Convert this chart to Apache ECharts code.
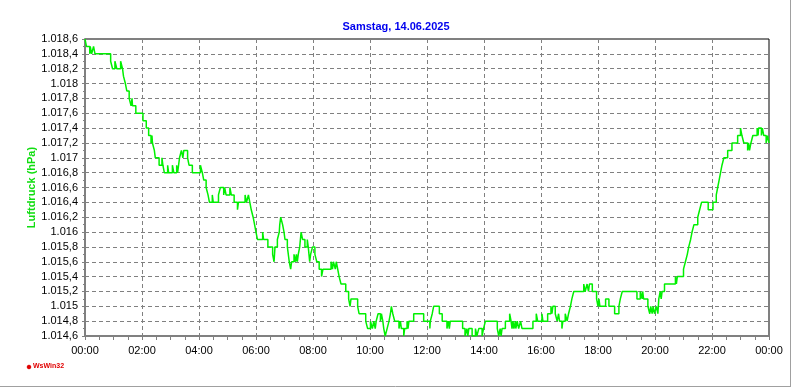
<!DOCTYPE html>
<html><head><meta charset="utf-8">
<script src="https://cdn.jsdelivr.net/npm/echarts@6/dist/echarts.min.js"></script>
<style>html,body{margin:0;padding:0;background:#fff}#c{width:792px;height:387px}</style>
</head><body><div id="c"></div>
<script>
const titleText = 'Samstag, 14.06.2025';
const yAxisName = 'Luftdruck (hPa)';
const xTickLabels = ['00:00','02:00','04:00','06:00','08:00','10:00','12:00','14:00','16:00','18:00','20:00','22:00','00:00'];
// minutes since midnight at which the reading changes
const times = [0,3,10,11,14,18,21,54,58,63,67,75,79,81,85,88,93,97,99,100,107,122,129,134,139,141,142,146,148,156,162,164,167,174,176,184,187,193,195,197,199,203,206,208,216,219,226,243,247,250,255,259,262,268,270,281,285,292,294,297,305,308,314,321,323,337,340,344,347,350,354,357,360,363,374,376,385,395,398,400,405,409,410,412,416,419,421,426,430,433,435,440,443,445,447,449,452,455,458,463,468,470,473,475,479,484,488,493,498,501,518,521,523,527,529,532,535,539,549,555,558,560,574,577,591,595,601,605,608,611,613,617,622,624,627,629,632,636,640,643,645,648,652,661,664,666,671,673,678,680,682,692,713,726,727,731,734,746,752,762,765,767,769,795,800,804,806,808,815,822,825,829,836,839,843,868,871,874,876,878,885,894,897,899,901,903,906,907,910,913,917,920,943,950,953,962,964,974,981,983,985,990,994,997,999,1004,1006,1011,1015,1018,1022,1025,1029,1050,1053,1057,1060,1062,1068,1077,1080,1082,1084,1096,1103,1115,1124,1127,1131,1162,1169,1173,1174,1176,1185,1189,1191,1194,1196,1199,1203,1206,1208,1211,1213,1215,1220,1243,1245,1247,1260,1264,1268,1271,1275,1278,1282,1290,1294,1298,1312,1322,1329,1332,1335,1338,1341,1345,1353,1362,1374,1380,1383,1387,1395,1397,1399,1402,1406,1415,1417,1418,1424,1426,1429,1434,1437,1440];
const pressure = [1018.6,1018.5,1018.4,1018.5,1018.4,1018.5,1018.4,1018.3,1018.2,1018.3,1018.2,1018.3,1018.2,1018.1,1018.0,1017.9,1017.8,1017.7,1017.8,1017.7,1017.6,1017.5,1017.4,1017.3,1017.2,1017.3,1017.2,1017.1,1017.0,1016.9,1017.0,1016.9,1016.8,1016.9,1016.8,1016.9,1016.8,1016.9,1016.8,1016.9,1017.0,1017.1,1017.0,1017.1,1017.0,1016.9,1016.8,1016.9,1016.8,1016.7,1016.6,1016.5,1016.4,1016.5,1016.4,1016.5,1016.6,1016.5,1016.6,1016.5,1016.6,1016.5,1016.4,1016.3,1016.4,1016.5,1016.4,1016.5,1016.4,1016.3,1016.2,1016.1,1016.0,1015.9,1016.0,1015.9,1015.8,1015.7,1015.6,1015.8,1015.9,1016.0,1016.1,1016.2,1016.1,1016.0,1015.9,1015.8,1015.6,1015.5,1015.6,1015.7,1015.6,1015.7,1015.6,1015.7,1015.8,1016.0,1015.9,1015.8,1015.9,1015.8,1015.6,1015.7,1015.8,1015.7,1015.6,1015.5,1015.4,1015.5,1015.6,1015.5,1015.6,1015.5,1015.6,1015.5,1015.4,1015.3,1015.2,1015.1,1015.0,1015.1,1015.0,1014.9,1014.8,1014.7,1014.8,1014.7,1014.8,1014.7,1014.8,1014.9,1014.8,1014.9,1014.8,1014.7,1014.6,1014.7,1014.8,1014.9,1015.0,1014.9,1014.8,1014.7,1014.8,1014.7,1014.6,1014.7,1014.8,1014.7,1014.8,1014.9,1014.8,1014.7,1014.8,1014.9,1015.0,1014.9,1014.8,1014.7,1014.8,1014.7,1014.8,1014.7,1014.6,1014.7,1014.6,1014.7,1014.6,1014.7,1014.6,1014.7,1014.6,1014.7,1014.8,1014.7,1014.6,1014.7,1014.6,1014.7,1014.8,1014.9,1014.8,1014.7,1014.8,1014.7,1014.8,1014.7,1014.8,1014.7,1014.8,1014.7,1014.8,1014.9,1014.8,1014.9,1014.8,1014.9,1015.0,1014.9,1015.0,1014.9,1014.8,1014.9,1014.8,1014.7,1014.8,1014.9,1014.8,1014.9,1015.0,1015.1,1015.2,1015.3,1015.2,1015.3,1015.2,1015.3,1015.2,1015.1,1015.0,1015.1,1015.0,1015.1,1015.0,1014.9,1015.0,1015.1,1015.2,1015.1,1015.2,1015.1,1015.2,1015.1,1015.0,1014.9,1015.0,1014.9,1015.0,1014.9,1015.0,1014.9,1015.1,1015.2,1015.1,1015.2,1015.3,1015.4,1015.3,1015.4,1015.5,1015.6,1015.7,1015.8,1015.9,1016.0,1016.1,1016.2,1016.3,1016.4,1016.3,1016.4,1016.5,1016.6,1016.7,1016.8,1016.9,1017.0,1017.1,1017.2,1017.3,1017.4,1017.3,1017.2,1017.1,1017.2,1017.1,1017.2,1017.3,1017.4,1017.3,1017.4,1017.3,1017.4,1017.3,1017.2,1017.3,1017.2];

const data = times.map((t, i) => [t, pressure[i]]);

function deFormat(v) {
  let s = (Math.round(v * 10) / 10).toFixed(1);
  let [ip, dp] = s.split('.');
  ip = ip.replace(/\B(?=(\d{3})+(?!\d))/g, '.');
  return dp === '0' ? ip : ip + ',' + dp;
}

const chart = echarts.init(document.getElementById('c'), null, {renderer: 'canvas'});
const font = 'Liberation Sans, Arial, sans-serif';
chart.setOption({
  animation: false,
  backgroundColor: '#fff',
  title: {
    text: titleText, left: 'center', top: 16,
    textStyle: {color: '#0000ee', fontSize: 11, fontWeight: 'bold', fontFamily: font}
  },
  grid: {left: 85, right: 23, top: 39, bottom: 51, show: true, borderColor: '#000', borderWidth: 1, backgroundColor: '#fff'},
  xAxis: {
    type: 'value', min: 0, max: 1440, interval: 120,
    axisLine: {show: true, onZero: false, lineStyle: {color: '#808080', width: 2}},
    axisTick: {show: true, length: 4, lineStyle: {color: '#808080'}},
    minorTick: {show: true, splitNumber: 4, length: 4, lineStyle: {color: '#808080'}},
    axisLabel: {color: '#000', fontSize: 11, fontFamily: font, margin: 9,
      formatter: v => xTickLabels[Math.round(v / 120)] || ''},
    splitLine: {show: true, lineStyle: {color: '#808080', type: [4, 3], width: 1}}
  },
  yAxis: {
    type: 'value', min: 1014.6, max: 1018.6, interval: 0.2,
    name: yAxisName, nameLocation: 'middle', nameGap: 48, nameRotate: 90, nameMoveOverlap: false,
    nameTextStyle: {color: '#11dd11', fontSize: 11, fontWeight: 'bold', fontFamily: font},
    axisLine: {show: true, lineStyle: {color: '#808080', width: 2}},
    axisTick: {show: true, length: 3, lineStyle: {color: '#808080'}},
    minorTick: {show: true, splitNumber: 2, length: 2, lineStyle: {color: '#808080'}},
    axisLabel: {color: '#000', fontSize: 11, fontFamily: font, margin: 7, formatter: deFormat},
    splitLine: {show: true, lineStyle: {color: '#808080', type: [4, 3], width: 1}}
  },
  series: [{
    type: 'line', data: data, step: 'end', showSymbol: false, symbol: 'none',
    lineStyle: {color: '#00f000', width: 1.5}, itemStyle: {color: '#00f000'}
  }],
  graphic: [
    {type: 'line', shape: {x1: 790.5, y1: 0, x2: 790.5, y2: 387}, style: {stroke: '#a0a0a0', lineWidth: 1}},
    {type: 'line', shape: {x1: 0, y1: 386.5, x2: 791, y2: 386.5}, style: {stroke: '#a0a0a0', lineWidth: 1}},
    {type: 'circle', shape: {cx: 29, cy: 367, r: 1.8}, style: {fill: '#e00000', stroke: '#e00000', lineWidth: 1}},
    {type: 'text', left: 33, top: 363, style: {text: 'WsWin32', fill: '#e00000', font: 'bold 7px ' + font}}
  ]
});
</script></body></html>
